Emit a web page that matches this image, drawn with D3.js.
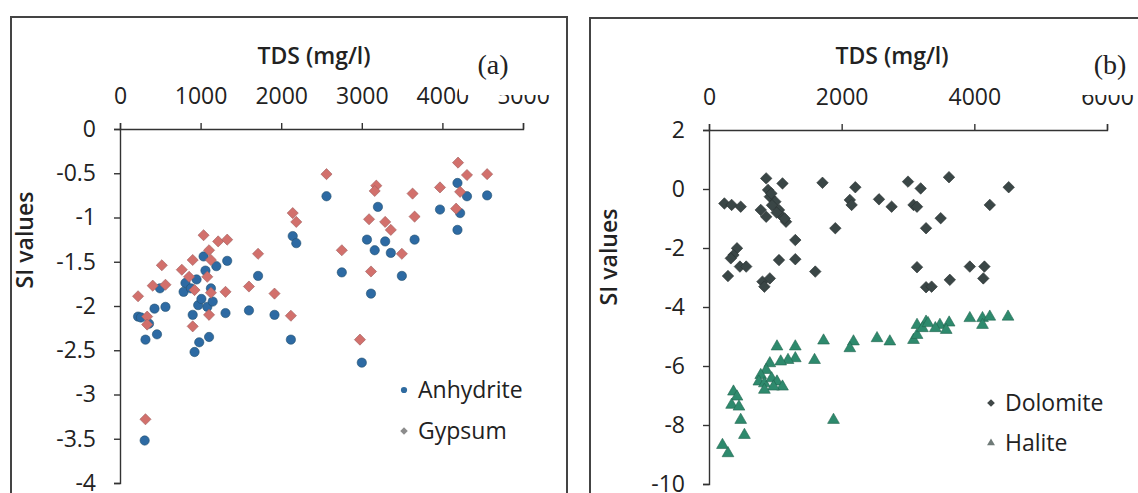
<!DOCTYPE html>
<html lang="en">
<head>
<meta charset="UTF-8">
<title>SI values vs TDS</title>
<script src="https://cdn.jsdelivr.net/npm/d3@7"></script>
<style>
  body { margin: 0; background: #fff; }
  svg { display: block; }
  .tick text { font-family: "Open Sans", sans-serif; font-size: 23px; fill: #222; }
  .axis path, .axis line { stroke: #333; stroke-width: 1.4; }
  .title { font-family: "Open Sans", sans-serif; font-size: 23px; font-weight: 600; fill: #222; }
  .tag { font-family: "Liberation Serif", serif; font-size: 28px; fill: #222; }
  .legend text { font-family: "Open Sans", sans-serif; font-size: 23px; fill: #222; }
</style>
</head>
<body>
<svg id="chart" width="1138" height="493"></svg>
<script>
// ---- data ----
const ticksA_x = [0, 1000, 2000, 3000, 4000, 5000];
const ticksA_y = [0, -0.5, -1, -1.5, -2, -2.5, -3, -3.5, -4];
const ticksB_x = [0, 2000, 4000, 6000];
const ticksB_y = [2, 0, -2, -4, -6, -8, -10];

const anhydriteTDS = [2562,4187,4305,4555,3970,4220,4187,3200,3655,3064,3290,3160,3360,3497,3114,2752,2143,2187,1713,1600,1917,1309,1330,1195,1037,812,789,880,970,1083,902,1128,496,564,428,224,360,316,459,925,983,1105,2120,3000,306,1010,950,1060,260,1150];
const anhydriteSI  = [-0.76,-0.61,-0.76,-0.75,-0.91,-0.95,-1.14,-0.88,-1.25,-1.25,-1.27,-1.37,-1.40,-1.66,-1.86,-1.62,-1.21,-1.29,-1.66,-2.05,-2.10,-2.08,-1.49,-1.55,-1.44,-1.74,-1.84,-1.80,-1.99,-2.01,-2.10,-1.80,-1.80,-2.01,-2.03,-2.12,-2.20,-2.38,-2.32,-2.52,-2.41,-2.35,-2.38,-2.64,-3.52,-1.92,-1.70,-1.60,-2.13,-1.95];

const gypsumTDS = [2562,4194,4305,4555,3180,3160,3630,3970,4220,4170,3090,3290,3360,3655,2143,2187,2752,3497,3114,1713,1600,1917,2120,1309,1037,1218,1330,519,224,406,564,337,767,902,1105,1128,1083,1128,1105,925,857,2977,316,902,337];
const gypsumSI  = [-0.51,-0.38,-0.52,-0.51,-0.64,-0.70,-0.73,-0.66,-0.71,-0.90,-1.02,-1.05,-1.14,-0.99,-0.95,-1.05,-1.37,-1.41,-1.61,-1.41,-1.78,-1.86,-2.11,-1.84,-1.20,-1.27,-1.25,-1.54,-1.89,-1.77,-1.76,-2.12,-1.59,-1.48,-1.37,-1.48,-1.67,-1.85,-2.10,-1.82,-1.67,-2.38,-3.28,-2.23,-2.21];

const dolomiteTDS = [862,1108,1711,2206,3000,3191,3618,4518,232,341,478,890,917,1000,780,1055,1108,1161,862,2123,2150,2563,2753,3083,3136,4233,1904,3272,3493,1301,422,369,329,466,561,286,1055,1301,1602,806,917,835,3136,3272,3356,3630,3932,4152,4135,950,1020,1140,940];
const dolomiteSI  = [0.36,0.19,0.21,0.06,0.25,0.02,0.40,0.06,-0.49,-0.54,-0.60,-0.03,-0.26,-0.43,-0.71,-0.71,-0.94,-1.11,-0.94,-0.37,-0.54,-0.35,-0.60,-0.54,-0.60,-0.54,-1.33,-1.33,-0.99,-1.73,-2.01,-2.24,-2.35,-2.63,-2.63,-2.95,-2.41,-2.38,-2.80,-3.14,-3.03,-3.31,-2.65,-3.33,-3.31,-3.08,-2.63,-2.63,-3.03,-0.55,-0.80,-1.00,-0.15];

const haliteTDS = [3136,3272,3481,3620,3932,4123,4233,4508,3083,3136,3219,3302,3412,3576,4123,2726,2533,2178,2123,1727,1591,1301,1301,1025,1191,1081,917,862,780,752,835,944,1025,1108,972,835,369,422,341,452,478,534,203,286,1877];
const haliteSI  = [-4.61,-4.50,-4.61,-4.53,-4.38,-4.38,-4.33,-4.33,-5.12,-4.95,-4.72,-4.55,-4.72,-4.78,-4.61,-5.17,-5.06,-5.17,-5.40,-5.14,-5.80,-5.34,-5.74,-5.34,-5.80,-5.85,-5.91,-6.14,-6.31,-6.53,-6.59,-6.42,-6.53,-6.70,-6.70,-6.81,-6.87,-7.04,-7.32,-7.38,-7.83,-8.34,-8.68,-8.96,-7.83];

const svg = d3.select("#chart");
svg.append("rect").attr("width", 1138).attr("height", 493).attr("fill", "#fff");

// panel frames
svg.append("rect").attr("x", 11).attr("y", 17).attr("width", 556).attr("height", 500)
    .attr("fill", "none").attr("stroke", "#444").attr("stroke-width", 2);
svg.append("rect").attr("x", 590).attr("y", 18).attr("width", 600).attr("height", 500)
    .attr("fill", "none").attr("stroke", "#444").attr("stroke-width", 2);

const symCircle = d3.symbol().type(d3.symbolCircle);
const symSquare = d3.symbol().type(d3.symbolSquare);
const symTri = d3.symbol().type(d3.symbolTriangle);

function panel(cfg) {
    const x = d3.scaleLinear().domain(cfg.xDomain).range(cfg.xRange);
    const y = d3.scaleLinear().domain(cfg.yDomain).range(cfg.yRange);
    const g = svg.append("g");

    g.append("g").attr("class", "axis")
        .attr("transform", `translate(0,${y(cfg.yDomain[1])})`)
        .call(d3.axisTop(x).tickValues(cfg.xTicks).tickSize(6).tickPadding(19).tickFormat(d3.format("d")));
    g.append("g").attr("class", "axis")
        .attr("transform", `translate(${x(0)},0)`)
        .call(d3.axisLeft(y).tickValues(cfg.yTicks).tickSize(6).tickPadding(cfg.yPad).tickFormat(d => d));

    // white box behind the panel tag clips the tops of the last tick labels
    g.append("rect").attr("x", cfg.tagBox[0]).attr("y", 36).attr("width", cfg.tagBox[1]).attr("height", 59).attr("fill", "#fff");
    g.append("text").attr("class", "tag").attr("x", cfg.tagX).attr("y", 74).attr("text-anchor", "middle").text(cfg.tag);

    g.append("text").attr("class", "title").attr("x", cfg.titleX).attr("y", 64)
        .attr("text-anchor", "middle").text("TDS (mg/l)");
    g.append("text").attr("class", "title")
        .attr("transform", `translate(${cfg.ylabX},${cfg.ylabY}) rotate(-90)`)
        .attr("text-anchor", "middle").text("SI values");

    cfg.series.forEach(s => {
        g.append("g").selectAll("path")
            .data(d3.range(s.tds.length))
            .join("path")
            .attr("d", s.sym.size(s.size)())
            .attr("transform", i => `translate(${x(s.tds[i])},${y(s.si[i])})${s.rot ? " rotate(45)" : ""}`)
            .attr("fill", s.color)
            .attr("stroke", s.edge).attr("stroke-width", 0.6);
    });

    const lg = g.append("g").attr("class", "legend");
    cfg.series.forEach((s, k) => {
        const ly = cfg.legY[k];
        lg.append("path")
            .attr("d", s.sym.size(s.size * 0.45)())
            .attr("transform", `translate(${cfg.legX},${ly})${s.rot ? " rotate(45)" : ""}`)
            .attr("fill", s.legColor);
        lg.append("text").attr("x", cfg.legX + 14).attr("y", ly).attr("dy", "0.35em").text(s.name);
    });
}

panel({
    xDomain: [0, 5000], xRange: [120, 523],
    yDomain: [-4, 0], yRange: [483, 129],
    xTicks: ticksA_x, yTicks: ticksA_y, yPad: 18,
    tag: "(a)", tagX: 493, tagBox: [459, 90],
    titleX: 314, ylabX: 33, ylabY: 240,
    legX: 404, legY: [390, 431],
    series: [
        { name: "Anhydrite", tds: anhydriteTDS, si: anhydriteSI, sym: symCircle, size: 68, color: "#2d6aa3", edge: "#24506f", legColor: "#2f6ba0" },
        { name: "Gypsum", tds: gypsumTDS, si: gypsumSI, sym: symSquare, size: 62, rot: true, color: "#d2706c", edge: "#a06060", legColor: "#8c8c8c" }
    ]
});

panel({
    xDomain: [0, 6000], xRange: [709, 1107],
    yDomain: [-10, 2], yRange: [484, 130],
    xTicks: ticksB_x, yTicks: ticksB_y, yPad: 18,
    tag: "(b)", tagX: 1110, tagBox: [1068, 70],
    titleX: 892, ylabX: 617, ylabY: 257,
    legX: 991, legY: [403, 443],
    series: [
        { name: "Dolomite", tds: dolomiteTDS, si: dolomiteSI, sym: symSquare, size: 66, rot: true, color: "#3a4646", edge: "#2a3333", legColor: "#404848" },
        { name: "Halite", tds: haliteTDS, si: haliteSI, sym: symTri, size: 60, color: "#2e8a6d", edge: "#236650", legColor: "#6f7a77" }
    ]
});
</script>
</body>
</html>
